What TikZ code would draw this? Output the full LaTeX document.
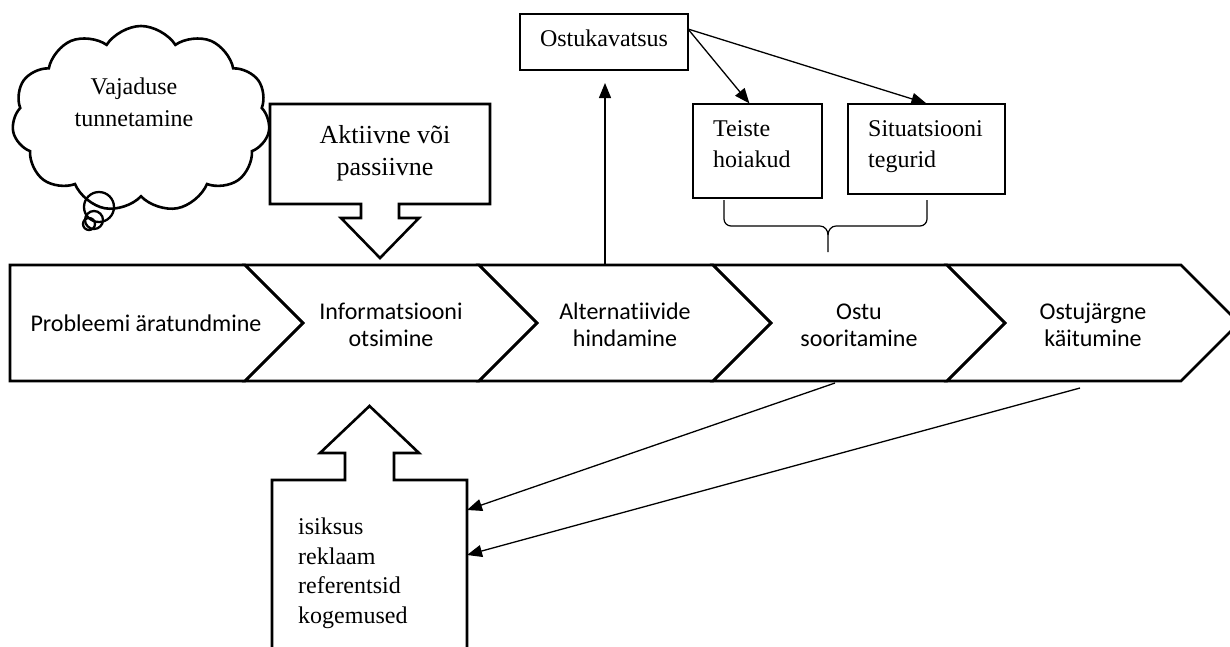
\documentclass[tikz,border=0pt]{standalone}
\usepackage{fontspec}
\setmainfont{Liberation Serif}
\newfontfamily\chevfont[Ligatures=NoCommon]{Carlito}
\usetikzlibrary{arrows.meta,shapes.symbols,calc}
\tikzset{
  thickline/.style={line width=2.6pt, line join=miter},
  thinline/.style={line width=1.2pt},
  conn/.style={line width=1.3pt, -{Triangle[length=15pt,width=12pt]}},
  boxed/.style={draw, line width=1.2pt, inner sep=0pt},
  serif/.style={font=\fontsize{24}{32}\selectfont, inner sep=0pt},
  bigserif/.style={font=\fontsize{26}{34}\selectfont, inner sep=0pt},
  chev/.style={font=\chevfont\fontsize{24}{27}\selectfont, inner sep=0pt},
}
\begin{document}
\begin{tikzpicture}[x=1pt,y=-1pt]
\useasboundingbox (0,0) rectangle (1230,646);
\clip (0,0) rectangle (1230,646);

% ---------- chevrons ----------
\draw[thickline] (10,265) -- (245,265) -- (303,323) -- (245,381) -- (10,381) -- cycle;
\foreach \L in {245,479,713,947}{
  \draw[thickline] (\L,265) -- ({\L+234},265) -- ({\L+292},323) -- ({\L+234},381) -- (\L,381) -- ({\L+58},323) -- cycle;
}
\node[chev, anchor=base] (ch1) at (146,331) {Probleemi äratundmine};
\node[chev, anchor=base] (ch2a) at (391,319) {Informatsiooni};
\node[chev, anchor=base] (ch2b) at (391,346) {otsimine};
\node[chev, anchor=base] (ch3a) at (625,319) {Alternatiivide};
\node[chev, anchor=base] (ch3b) at (625,346) {hindamine};
\node[chev, anchor=base] (ch4a) at (859,319) {Ostu};
\node[chev, anchor=base] (ch4b) at (859,346) {sooritamine};
\node[chev, anchor=base] (ch5a) at (1093,319) {Ostujärgne};
\node[chev, anchor=base] (ch5b) at (1093,346) {käitumine};

% ---------- cloud ----------
\node[cloud, draw, thickline, cloud puffs=11, cloud puff arc=115, cloud ignores aspect,
      minimum width=258pt, minimum height=186pt, inner sep=0pt] (cloud) at (141,119) {};
\node[serif, anchor=base] (cl1) at (134,94) {Vajaduse};
\node[serif, anchor=base] (cl2) at (134,126) {tunnetamine};
\draw[line width=2.3pt] (99,207) circle (15);
\draw[line width=2.3pt] (94,220) circle (9);
\draw[line width=2.3pt] (89,224) circle (6);

% ---------- down callout ----------
\draw[thickline] (270,104) -- (490,104) -- (490,204) -- (399,204) -- (399,218) -- (419,218)
  -- (380,258) -- (341,218) -- (361,218) -- (361,204) -- (270,204) -- cycle;
\node[bigserif, anchor=base] (ak1) at (385,143) {Aktiivne või};
\node[bigserif, anchor=base] (ak2) at (385,175) {passiivne};

% ---------- Ostukavatsus and factors ----------
\node[boxed, minimum width=168pt, minimum height=56pt] (okv) at (604,42) {};
\node[serif, anchor=base] (okvt) at (604,46) {Ostukavatsus};
\node[boxed, minimum width=129pt, minimum height=94pt] (teiste) at (757.5,151) {};
\node[serif, anchor=base west] (te1) at (713,136) {Teiste};
\node[serif, anchor=base west] (te2) at (713,167) {hoiakud};
\node[boxed, minimum width=157pt, minimum height=90pt] (sit) at (926.5,149) {};
\node[serif, anchor=base west] (si1) at (868,136) {Situatsiooni};
\node[serif, anchor=base west] (si2) at (868,167) {tegurid};

\coordinate (c3top) at (605,265);
\coordinate (okvin) at (605,83);
\coordinate (okvout) at (688,29);
\draw[conn] (c3top) -- (okvin);
\draw[conn] (okvout) -- ($(teiste.north west)+(57,0)$);
\draw[conn] (okvout) -- ($(sit.north west)+(79,0)$);

% brace
\draw[thinline] (724,200) -- (724,219) to[out=-90,in=180] (731,226) -- (820,226)
  to[out=0,in=90] (828,235) -- (828,252);
\draw[thinline] (828,235) to[out=90,in=180] (836,226) -- (920,226)
  to[out=0,in=-90] (927,219) -- (927,200);

% ---------- up callout ----------
\draw[thickline] (272,660) -- (272,480) -- (345,480) -- (345,453) -- (320,453) -- (369.5,406)
  -- (419,453) -- (394,453) -- (394,480) -- (467,480) -- (467,660);
\node[serif, anchor=base west] (li1) at (298,534) {isiksus};
\node[serif, anchor=base west] (li2) at (298,564) {reklaam};
\node[serif, anchor=base west] (li3) at (298,593) {referentsid};
\node[serif, anchor=base west] (li4) at (298,623) {kogemused};

\coordinate (c4bot) at (835,383);
\coordinate (c5bot) at (1080,388);
\coordinate (upin1) at (467,510);
\coordinate (upin2) at (467,555);
\draw[conn] (c4bot) -- (upin1);
\draw[conn] (c5bot) -- (upin2);
\end{tikzpicture}
\end{document}
